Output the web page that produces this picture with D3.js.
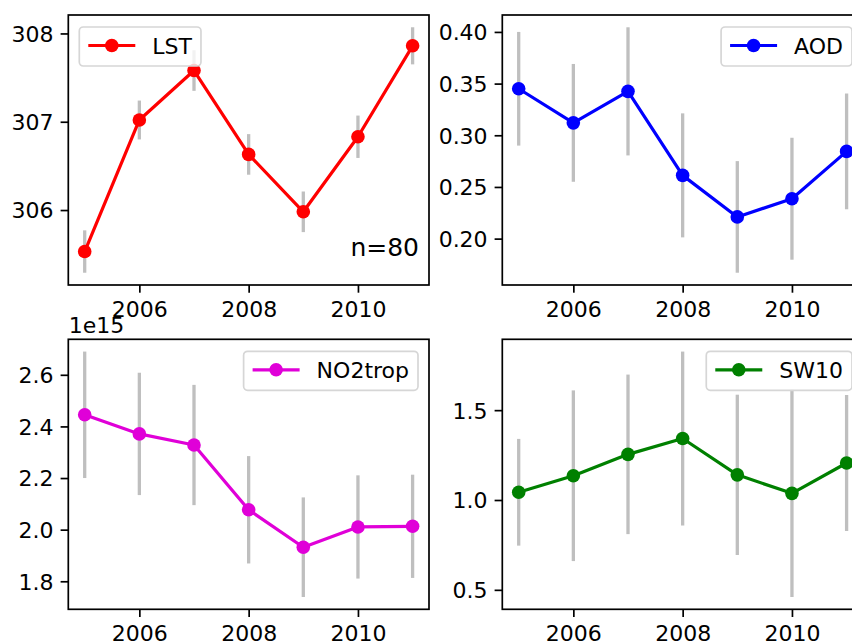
<!DOCTYPE html>
<html>
<head>
<meta charset="utf-8">
<script src="https://cdn.jsdelivr.net/npm/d3@7"></script>
<style>
html, body { margin: 0; padding: 0; background: #fff; overflow: hidden; }
svg { display: block; font-family: "DejaVu Sans", sans-serif; }
</style>
</head>
<body>
<svg id="chart" width="852" height="644"></svg>
<script>
// ---- data ----
const years = [2005, 2006, 2007, 2008, 2009, 2010, 2011];
const xTicks = [2006, 2008, 2010];

const lstValues = [305.53, 307.02, 307.58, 306.63, 305.98, 306.83, 307.86];
const lstErr    = [0.24, 0.22, 0.23, 0.23, 0.23, 0.24, 0.21];
const lstTicks  = [306, 307, 308];

const aodValues = [0.345, 0.312, 0.3425, 0.2612, 0.221, 0.2386, 0.2844];
const aodErr    = [0.055, 0.057, 0.062, 0.060, 0.054, 0.059, 0.056];
const aodTicks  = [0.20, 0.25, 0.30, 0.35, 0.40];

const no2Values = [2.445e15, 2.371e15, 2.328e15, 2.077e15, 1.932e15, 2.0105e15, 2.013e15];
const no2Err    = [0.245e15, 0.237e15, 0.233e15, 0.208e15, 0.193e15, 0.200e15, 0.200e15];
const no2Ticks  = [1.8e15, 2.0e15, 2.2e15, 2.4e15, 2.6e15];

const swValues = [1.043, 1.135, 1.254, 1.342, 1.140, 1.037, 1.206];
const swErr    = [0.297, 0.475, 0.444, 0.484, 0.446, 0.577, 0.378];
const swTicks  = [0.5, 1.0, 1.5];

const sampleNote = "n=80";

// ---- layout ----
const svg = d3.select("#chart");
const FS = 22;
const TICK = 7.7;
const SW = 1.7;

const panels = [
  { name: "LST", values: lstValues, err: lstErr, ticks: lstTicks, color: "#ff0000",
    x0: 68.3, x1: 429, y0: 15, y1: 285, fmt: d => d3.format("d")(d), legend: "left", note: sampleNote },
  { name: "AOD", values: aodValues, err: aodErr, ticks: aodTicks, color: "#0000ff",
    x0: 502.3, x1: 863, y0: 15, y1: 285, fmt: d => d3.format(".2f")(d), legend: "right" },
  { name: "NO2trop", values: no2Values, err: no2Err, ticks: no2Ticks, color: "#e000d8",
    x0: 68.3, x1: 429, y0: 339.3, y1: 609.3, fmt: d => d3.format(".1f")(d / 1e15), legend: "right", offset: "1e15" },
  { name: "SW10", values: swValues, err: swErr, ticks: swTicks, color: "#008000",
    x0: 502.3, x1: 863, y0: 339.3, y1: 609.3, fmt: d => d3.format(".1f")(d), legend: "right" }
];

panels.forEach(p => {
  const x = d3.scaleLinear()
    .domain([d3.min(years), d3.max(years)])
    .range([0, 1]);
  // matplotlib-like 5% margins
  const xd = [years[0], years[years.length - 1]];
  const xm = (xd[1] - xd[0]) * 0.05;
  x.domain([xd[0] - xm, xd[1] + xm]).range([p.x0, p.x1]);

  const lo = d3.min(p.values.map((v, i) => v - p.err[i]));
  const hi = d3.max(p.values.map((v, i) => v + p.err[i]));
  const ym = (hi - lo) * 0.05;
  const y = d3.scaleLinear().domain([lo - ym, hi + ym]).range([p.y1, p.y0]);

  const g = svg.append("g");

  // error bars
  g.selectAll("line.err").data(years).enter().append("line")
    .attr("x1", d => x(d)).attr("x2", d => x(d))
    .attr("y1", (d, i) => y(p.values[i] - p.err[i]))
    .attr("y2", (d, i) => y(p.values[i] + p.err[i]))
    .attr("stroke", "#bfbfbf").attr("stroke-width", 3.3);

  // line
  const line = d3.line().x((d, i) => x(years[i])).y(d => y(d));
  g.append("path").datum(p.values)
    .attr("d", line).attr("fill", "none")
    .attr("stroke", p.color).attr("stroke-width", 3.2)
    .attr("stroke-linejoin", "round");

  // markers
  g.selectAll("circle.pt").data(p.values).enter().append("circle")
    .attr("cx", (d, i) => x(years[i])).attr("cy", d => y(d))
    .attr("r", 6.8).attr("fill", p.color);

  // axes frame
  g.append("rect")
    .attr("x", p.x0).attr("y", p.y0)
    .attr("width", p.x1 - p.x0).attr("height", p.y1 - p.y0)
    .attr("fill", "none").attr("stroke", "#000").attr("stroke-width", SW);

  // x axis
  const xAxis = d3.axisBottom(x).tickValues(xTicks).tickFormat(d3.format("d"))
    .tickSize(TICK).tickPadding(6);
  const xg = g.append("g").attr("transform", `translate(0,${p.y1})`).call(xAxis);
  xg.select(".domain").remove();
  xg.selectAll(".tick line").attr("stroke", "#000").attr("stroke-width", SW);
  xg.selectAll(".tick text").attr("font-size", FS).attr("fill", "#000")
    .attr("font-family", "DejaVu Sans").attr("dy", null).attr("y", 31.5)
    .attr("dominant-baseline", "alphabetic");

  // y axis
  const yAxis = d3.axisLeft(y).tickValues(p.ticks).tickFormat(p.fmt)
    .tickSize(TICK).tickPadding(7);
  const yg = g.append("g").attr("transform", `translate(${p.x0},0)`).call(yAxis);
  yg.select(".domain").remove();
  yg.selectAll(".tick line").attr("stroke", "#000").attr("stroke-width", SW);
  yg.selectAll(".tick text").attr("font-size", FS).attr("fill", "#000")
    .attr("font-family", "DejaVu Sans").attr("dy", "0.36em");

  if (p.offset) {
    g.append("text").attr("x", p.x0 + 0.5).attr("y", p.y0 - 6.5)
      .attr("font-size", FS).attr("fill", "#000").text(p.offset);
  }
  if (p.note) {
    g.append("text").attr("x", p.x1 - 10).attr("y", p.y1 - 29)
      .attr("text-anchor", "end").attr("font-size", 25).attr("fill", "#000").text(p.note);
  }

  // legend
  const lg = g.append("g");
  const box = lg.append("rect");
  const txt = lg.append("text").attr("font-size", FS).attr("fill", "#000").text(p.name);
  const tw = txt.node().getComputedTextLength();
  const pad = 9, hl = 47, gap = 17, bh = 39;
  const bw = pad + hl + gap + tw + pad;
  const bx = p.legend === "left" ? p.x0 + 11 : p.x1 - 11 - bw;
  const by = p.y0 + 12;
  box.attr("x", bx).attr("y", by).attr("width", bw).attr("height", bh)
    .attr("rx", 4).attr("fill", "#fff").attr("fill-opacity", 0.8)
    .attr("stroke", "#d6d6d6").attr("stroke-width", 1.7);
  const cy = by + 18.5;
  lg.append("line").attr("x1", bx + pad).attr("x2", bx + pad + hl)
    .attr("y1", cy).attr("y2", cy).attr("stroke", p.color).attr("stroke-width", 3.2);
  lg.append("circle").attr("cx", bx + pad + hl / 2).attr("cy", cy).attr("r", 6.8).attr("fill", p.color);
  txt.attr("x", bx + pad + hl + gap).attr("y", cy + 8);
});
</script>
</body>
</html>
